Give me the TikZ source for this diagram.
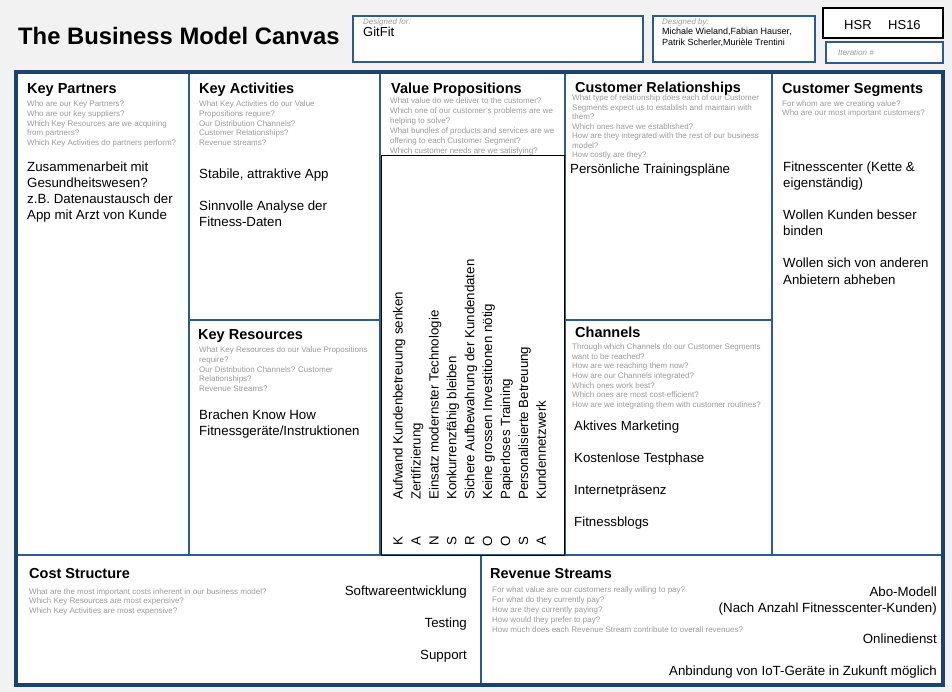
\documentclass[tikz,border=0pt]{standalone}
\usepackage{fontspec}
\setmainfont{Liberation Sans}
\definecolor{bgcol}{HTML}{F2F2F2}
\definecolor{frame}{HTML}{1C4270}
\definecolor{gridc}{HTML}{2F5A8C}
\definecolor{qgray}{HTML}{9B9B9B}
\newcommand\txtlines[5]{\foreach \tx [count=\i from 0] in {#5}{\node[#4] at (#1,{#2+\i*#3}) {\tx};}}
\begin{document}
\begin{tikzpicture}[x=1pt,y=-1pt,
  q/.style={anchor=base west, inner sep=0pt, text=qgray, font=\fontsize{8}{10}\selectfont},
  qs/.style={q},
  qr/.style={q},
  qc/.style={q},
  hd/.style={anchor=base west, inner sep=0pt, font=\bfseries\fontsize{14.5}{17}\selectfont},
  bd/.style={anchor=base west, inner sep=0pt, font=\fontsize{13.3}{16}\selectfont},
  bdr/.style={bd, anchor=base east},
  vt/.style={anchor=base west, rotate=90, inner sep=0pt, font=\fontsize{13.3}{16}\selectfont},
  vl/.style={anchor=base, rotate=90, inner sep=0pt, font=\fontsize{13.3}{16}\selectfont},
  ital/.style={anchor=base west, inner sep=0pt, text=qgray, font=\itshape\fontsize{8}{9}\selectfont},
  hbox/.style={draw=gridc, fill=white, line width=1.3pt},
  gl/.style={draw=gridc, line width=1.5pt}]
\useasboundingbox (0,0) rectangle (952,692);
\fill[bgcol] (0,0) rectangle (952,692);

% header
\node[anchor=base west, inner sep=0pt, font=\bfseries\fontsize{23.8}{28}\selectfont] (title) at (18,45) {The Business Model Canvas};
\path[hbox] (353,16) rectangle (643,62);
\path[hbox] (653,16) rectangle (815,62);
\path[draw=black, fill=white, line width=1.3pt] (823,8) rectangle (943,38);
\path[hbox] (826,42) rectangle (943,63);
\node[ital] (dfor) at (363,25) {Designed for:};
\node[anchor=base west, inner sep=0pt, font=\fontsize{13}{15}\selectfont] (gitfit) at (363,37) {GitFit};
\node[ital] (dby) at (662,25) {Designed by:};
\txtlines{662}{34.5}{11.5}{anchor=base west, inner sep=0pt, font=\fontsize{9}{11}\selectfont}{{Michale Wieland,Fabian Hauser,},{Patrik Scherler,Murièle Trentini}}
\node[anchor=base west, inner sep=0pt, font=\fontsize{13}{15}\selectfont] (hsr) at (844,29.5) {HSR};
\node[anchor=base west, inner sep=0pt, font=\fontsize{13}{15}\selectfont] (hs16) at (888,29.5) {HS16};
\node[ital] (iter) at (838,55.5) {Iteration \#};

% canvas
\fill[white] (16,72) rectangle (943,685);
\draw[gl] (16,555) -- (943,555);
\draw[gl] (189,72) -- (189,555);
\draw[gl] (380,72) -- (380,555);
\draw[gl] (565,72) -- (565,555);
\draw[gl] (772,72) -- (772,555);
\draw[gl] (189,320) -- (380,320);
\draw[gl] (565,320) -- (772,320);
\draw[gl] (481,555) -- (481,685);
\draw[black, line width=1pt] (381,156) rectangle (564,555);
\draw[frame, line width=3.5pt] (16,72) rectangle (943,685);

% Key Partners
\node[hd] (kp) at (27,94) {Key Partners};
\txtlines{27}{106.5}{9.8}{q}{{Who are our Key Partners?},{Who are our key suppliers?},{Which Key Resources are we acquiring},{from partners?},{Which Key Activities do partners perform?}}
\txtlines{27}{172}{16}{bd}{{Zusammenarbeit mit},{Gesundheitswesen?},{z.B. Datenaustausch der},{App mit Arzt von Kunde}}

% Key Activities
\node[hd] (ka) at (199,94) {Key Activities};
\txtlines{199}{106.5}{9.8}{q}{{What Key Activities do our Value},{Propositions require?},{Our Distribution Channels?},{Customer Relationships?},{Revenue streams?}}
\node[bd] (ka1) at (199,179) {Stabile, attraktive App};
\txtlines{199}{211}{15.5}{bd}{{Sinnvolle Analyse der},{Fitness-Daten}}

% Key Resources
\node[hd] (kr) at (198,339) {Key Resources};
\txtlines{199}{352.7}{9.7}{q}{{What Key Resources do our Value Propositions},{require?},{Our Distribution Channels? Customer},{Relationships?},{Revenue Streams?}}
\txtlines{199}{419}{16.5}{bd}{{Brachen Know How},{Fitnessgeräte/Instruktionen}}

% Value Propositions
\node[hd] (vp) at (391,94) {Value Propositions};
\txtlines{390}{103.3}{9.95}{q}{{What value do we deliver to the customer?},{Which one of our customer's problems are we},{helping to solve?},{What bundles of products and services are we},{offering to each Customer Segment?},{Which customer needs are we satisfying?}}
\foreach \L/\T [count=\i from 0] in {K/Aufwand Kundenbetreuung senken, A/Zertifizierung, N/Einsatz modernster Technologie, S/Konkurrenzfähig bleiben, R/Sichere Aufbewahrung der Kundendaten, O/Keine grossen Investitionen nötig, O/Papierloses Training, S/Personalisierte Betreuung, A/Kundennetzwerk}{
  \node[vt] (vt\i) at ({402.7+\i*17.9},500) {\T};
  \node[vl] (vl\i) at ({402.7+\i*17.9},541) {\L};
}

% Customer Relationships
\node[hd, font=\bfseries\fontsize{14.4}{17}\selectfont] (cr) at (575,93) {Customer Relationships};
\txtlines{572}{100.5}{9.55}{qc}{{What type of relationship does each of our Customer},{Segments expect us to establish and maintain with},{them?},{Which ones have we established?},{How are they integrated with the rest of our business},{model?},{How costly are they?}}
\node[bd] (cr1) at (570,174) {Persönliche Trainingspläne};

% Channels
\node[hd] (ch) at (575,337) {Channels};
\txtlines{572}{349.3}{9.7}{qc}{{Through which Channels do our Customer Segments},{want to be reached?},{How are we reaching them now?},{How are our Channels integrated?},{Which ones work best?},{Which ones are most cost-efficient?},{How are we integrating them with customer routines?}}
\txtlines{574}{430}{32}{bd}{{Aktives Marketing},{Kostenlose Testphase},{Internetpräsenz},{Fitnessblogs}}

% Customer Segments
\node[hd] (cs) at (782,94) {Customer Segments};
\txtlines{782}{106.3}{9.6}{q}{{For whom are we creating value?},{Who are our most important customers?}}
\txtlines{783}{172}{16}{bd}{{Fitnesscenter (Kette \&},{eigenständig)}}
\txtlines{783}{220}{16}{bd}{{Wollen Kunden besser},{binden}}
\txtlines{783}{268}{16}{bd}{{Wollen sich von anderen},{Anbietern abheben}}

% Cost Structure
\node[hd] (cost) at (29,578.3) {Cost Structure};
\txtlines{29}{594}{9.8}{qs}{{What are the most important costs inherent in our business model?},{Which Key Resources are most expensive?},{Which Key Activities are most expensive?}}
\txtlines{467}{595}{32}{bdr}{{Softwareentwicklung},{Testing},{Support}}

% Revenue Streams
\node[hd] (rev) at (490,578) {Revenue Streams};
\txtlines{492}{592}{10}{qr}{{For what value are our customers really willing to pay?},{For what do they currently pay?},{How are they currently paying?},{How would they prefer to pay?},{How much does each Revenue Stream contribute to overall revenues?}}
\node[bdr] (r1) at (937,596) {Abo-Modell};
\node[bdr] (r2) at (937,612) {(Nach Anzahl Fitnesscenter-Kunden)};
\node[bdr] (r3) at (937,643) {Onlinedienst};
\node[bdr] (r4) at (937,675) {Anbindung von IoT-Geräte in Zukunft möglich};
\end{tikzpicture}
\end{document}
